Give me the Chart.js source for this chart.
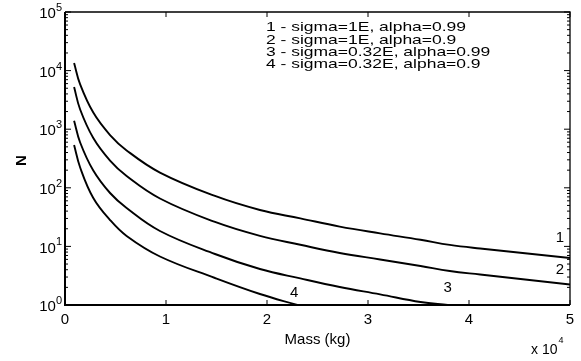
<!DOCTYPE html>
<html>
<head>
<meta charset="utf-8">
<script src="https://cdn.jsdelivr.net/npm/chart.js@4/dist/chart.umd.min.js"></script>
<style>
  html, body { margin: 0; padding: 0; background: #fff; }
  #wrap { width: 581px; height: 361px; }
</style>
</head>
<body>
<div id="wrap"><canvas id="massCanvas" width="581" height="361"></canvas></div>
<script>
// mass (kg) where each curve was read, and N at those masses
const mass12 = [900, 1500, 2800, 4460, 6100, 9400, 14850, 19300, 23300, 27200, 31200, 35200, 38100, 41100, 50000];
const n1 = [13490, 5815, 1920, 796, 435, 182, 72.5, 41.8, 30.1, 21.8, 16.7, 13.0, 10.6, 9.2, 6.34];
const n2 = [5250, 2170, 708, 292, 159, 65.7, 26.1, 15.1, 10.65, 7.72, 5.98, 4.63, 3.80, 3.32, 2.24];
const mass3 = [900, 1500, 2800, 4460, 6100, 9400, 14850, 19300, 23300, 27200, 31200, 35200, 37900];
const n3 = [1396, 593, 197, 81.5, 45.2, 18.3, 7.42, 4.11, 2.84, 2.03, 1.52, 1.125, 1.0];
const mass4 = [900, 1500, 2800, 4460, 6100, 9400, 14850, 19300, 23000];
const n4 = [538, 222, 67, 28.2, 15.05, 6.72, 2.89, 1.54, 1.0];

// tick values and labels
const xTicks = [0, 10000, 20000, 30000, 40000, 50000];
const xTickLabels = ['0', '1', '2', '3', '4', '5'];
const yTicks = [1, 10, 100, 1000, 10000, 100000];
const yTickExp = ['0', '1', '2', '3', '4', '5'];

// legend text and the curve numbers (placed in data units)
const legendLines = [
  '1 - sigma=1E, alpha=0.99',
  '2 - sigma=1E, alpha=0.9',
  '3 - sigma=0.32E, alpha=0.99',
  '4 - sigma=0.32E, alpha=0.9'
];
const tagText = ['1', '2', '3', '4'];
const tagMass = [49000, 49000, 37900, 22700];
const tagN = [13.9, 3.95, 1.95, 1.6];

function pts(xs, ys) {
  return xs.map((x, i) => ({ x: x, y: ys[i] }));
}

function curve(data) {
  return {
    data: data,
    borderColor: '#000',
    borderWidth: 1.9,
    pointRadius: 0,
    fill: false,
    tension: 0.4
  };
}

const FONT = '"Liberation Sans", Arial, sans-serif';

// frame, inward ticks, superscript labels and the texts matlab put on the plot
const decorations = {
  id: 'decorations',
  afterDraw(chart) {
    const ctx = chart.ctx;
    const a = chart.chartArea;
    const xs = chart.scales.x;
    const ys = chart.scales.y;
    ctx.save();
    ctx.strokeStyle = '#000';
    ctx.fillStyle = '#000';

    // box
    ctx.lineWidth = 2;
    ctx.beginPath();
    ctx.moveTo(a.left, a.top); ctx.lineTo(a.left, a.bottom); ctx.lineTo(a.right, a.bottom);
    ctx.stroke();
    ctx.lineWidth = 1.3;
    ctx.beginPath();
    ctx.moveTo(a.left, a.top); ctx.lineTo(a.right, a.top); ctx.lineTo(a.right, a.bottom);
    ctx.stroke();

    // x ticks
    ctx.lineWidth = 1;
    xTicks.forEach(v => {
      const px = xs.getPixelForValue(v);
      ctx.beginPath();
      ctx.moveTo(px, a.bottom); ctx.lineTo(px, a.bottom - 5);
      ctx.moveTo(px, a.top); ctx.lineTo(px, a.top + 5);
      ctx.stroke();
    });

    // y ticks, decades and minors
    yTicks.forEach((v, i) => {
      const py = ys.getPixelForValue(v);
      ctx.beginPath();
      ctx.moveTo(a.left, py); ctx.lineTo(a.left + 6, py);
      ctx.moveTo(a.right, py); ctx.lineTo(a.right - 6, py);
      ctx.stroke();
      if (i < yTicks.length - 1) {
        for (let k = 2; k < 10; k++) {
          const pm = ys.getPixelForValue(v * k);
          ctx.beginPath();
          ctx.moveTo(a.left, pm); ctx.lineTo(a.left + 3, pm);
          ctx.moveTo(a.right, pm); ctx.lineTo(a.right - 3, pm);
          ctx.stroke();
        }
      }
    });

    // y tick labels 10^n
    yTicks.forEach((v, i) => {
      const py = ys.getPixelForValue(v);
      ctx.font = '11px ' + FONT;
      ctx.textBaseline = 'middle';
      ctx.textAlign = 'left';
      const ew = ctx.measureText(yTickExp[i]).width;
      const expX = a.left - 3 - ew;
      ctx.fillText(yTickExp[i], expX, py - 4);
      ctx.font = '15px ' + FONT;
      ctx.textAlign = 'right';
      ctx.fillText('10', expX, py + 2);
    });

    // y title
    ctx.save();
    ctx.translate(22, (a.top + a.bottom) / 2 + 2);
    ctx.rotate(-Math.PI / 2);
    ctx.font = 'bold 15px ' + FONT;
    ctx.textAlign = 'center';
    ctx.textBaseline = 'middle';
    ctx.fillText('N', 0, 0);
    ctx.restore();

    // x multiplier
    ctx.font = '14px ' + FONT;
    ctx.textAlign = 'left';
    ctx.textBaseline = 'middle';
    ctx.fillText('x 10', 531, 350);
    const mw = ctx.measureText('x 10').width;
    ctx.font = '9px ' + FONT;
    ctx.fillText('4', 531 + mw + 1, 341);

    // curve numbers
    ctx.font = '15px ' + FONT;
    ctx.textAlign = 'center';
    tagText.forEach((t, i) => {
      ctx.fillText(t, xs.getPixelForValue(tagMass[i]), ys.getPixelForValue(tagN[i]));
    });

    // legend block, stretched a bit wider like the scan
    ctx.font = '13.5px ' + FONT;
    ctx.textAlign = 'left';
    const sx = 200 / ctx.measureText(legendLines[0]).width;
    const rowY = [27, 40, 52, 64];
    legendLines.forEach((t, i) => {
      ctx.save();
      ctx.translate(266, rowY[i]);
      ctx.scale(sx, 1);
      ctx.fillText(t, 0, 0);
      ctx.restore();
    });

    ctx.restore();
  }
};

const ctx = document.getElementById('massCanvas').getContext('2d');
const chart = new Chart(ctx, {
  type: 'line',
  data: {
    datasets: [
      curve(pts(mass12, n1)),
      curve(pts(mass12, n2)),
      curve(pts(mass3, n3)),
      curve(pts(mass4, n4))
    ]
  },
  options: {
    responsive: false,
    animation: false,
    layout: { padding: { top: 12, right: 11, left: 0, bottom: 0 } },
    plugins: { legend: { display: false }, tooltip: { enabled: false } },
    scales: {
      x: {
        type: 'linear',
        min: 0,
        max: 50000,
        grid: { display: false, drawTicks: false },
        border: { display: false },
        afterBuildTicks: (s) => { s.ticks = xTicks.map(v => ({ value: v })); },
        afterFit: (s) => { s.height = 56; },
        ticks: {
          color: '#000',
          font: { family: FONT, size: 15 },
          padding: 6,
          maxRotation: 0,
          callback: (v, i) => xTickLabels[i]
        },
        title: {
          display: true,
          text: 'Mass (kg)',
          color: '#000',
          font: { family: FONT, size: 15 },
          padding: { top: 0, bottom: 12 }
        }
      },
      y: {
        type: 'logarithmic',
        min: 1,
        max: 100000,
        grid: { display: false, drawTicks: false },
        border: { display: false },
        afterBuildTicks: (s) => { s.ticks = yTicks.map(v => ({ value: v })); },
        afterFit: (s) => { s.width = 65; },
        ticks: { display: false }
      }
    }
  },
  plugins: [decorations]
});
</script>
</body>
</html>
